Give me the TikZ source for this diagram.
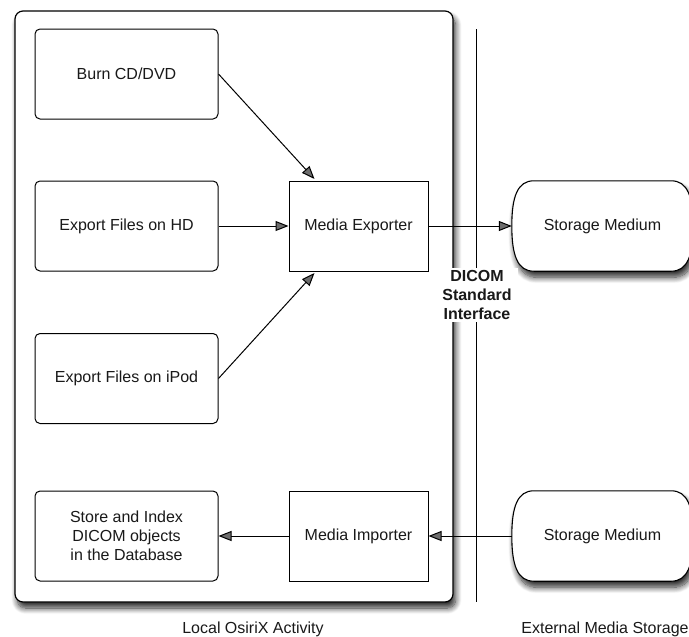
\documentclass[tikz,border=0pt]{standalone}
\usepackage{fontspec}
\setmainfont{Liberation Sans}
\usetikzlibrary{arrows.meta,calc,shadows.blur}
\pgfdeclarelayer{background}
\pgfsetlayers{background,main}
\begin{document}
\begin{tikzpicture}[x=1pt,y=-1pt,
  every node/.style={font=\fontsize{16}{18.8}\selectfont, align=center, text=black!90},
  softshadow/.style={blur shadow={shadow xshift=2.5pt, shadow yshift=-6pt, shadow blur radius=6pt, shadow blur steps=10, shadow opacity=85}},
  bigbox/.style={draw, line width=1.2pt, rounded corners=8pt, fill=white, softshadow, minimum width=438pt, minimum height=591pt, inner sep=0pt},
  taskbox/.style={draw, line width=1pt, rounded corners=5pt, fill=white, minimum width=183pt, minimum height=90pt, inner sep=0pt},
  procbox/.style={draw, line width=1pt, fill=white, minimum width=139pt, minimum height=90pt, inner sep=0pt},
  storebox/.style={minimum width=181pt, minimum height=90pt, inner sep=0pt},
  outline/.style={draw, line width=1.1pt, fill=white, softshadow},
  arr/.style={line width=1pt, -{Triangle[length=13pt,width=10pt]}},
  divider/.style={line width=1pt},
  iface/.style={fill=white, font=\fontsize{16}{18.7}\selectfont\bfseries, inner xsep=6pt, inner ysep=3pt},
  caption/.style={anchor=base}
]
\useasboundingbox (0,0) rectangle (689,637);

% local activity frame
\node[bigbox] (local) at (234,306.5) {};

% divider line
\coordinate (dtop) at (476.5,29);
\coordinate (dbot) at (476.5,602);
\draw[divider] (dtop) -- (dbot);

% task boxes
\node[taskbox] (burn)  at (126.5,74)    {Burn CD/DVD};
\node[taskbox] (hd)    at (126.5,226)   {Export Files on HD};
\node[taskbox] (ipod)  at (126.5,378.5) {Export Files on iPod};
\node[taskbox] (store) at (126.5,536)   {Store and Index\\DICOM objects\\in the Database};

\node[procbox] (exporter) at (358.5,226) {Media Exporter};
\node[procbox] (importer) at (358.5,536) {Media Importer};

% storage media
\node[storebox] (sm1) at (602.5,226) {Storage Medium};
\node[storebox] (sm2) at (602.5,536) {Storage Medium};
\begin{pgfonlayer}{background}
\foreach \s in {sm1,sm2}{
  \draw[outline]
    ($(\s.north west)+(22,0)$) -- ($(\s.north east)+(-22,0)$)
    .. controls ($(\s.north east)+(-6,0)$) and ($(\s.east)+(0,-30)$) .. (\s.east)
    .. controls ($(\s.east)+(0,30)$) and ($(\s.south east)+(-6,0)$) .. ($(\s.south east)+(-22,0)$)
    -- ($(\s.south west)+(22,0)$)
    .. controls ($(\s.south west)+(6,0)$) and ($(\s.west)+(0,30)$) .. (\s.west)
    .. controls ($(\s.west)+(0,-30)$) and ($(\s.north west)+(6,0)$) .. cycle;
}
\end{pgfonlayer}

% connectors
\draw[arr] (burn.east) -- ($(exporter.north west)+(26,-1.5)$);
\draw[arr] (hd.east) -- (exporter.west);
\draw[arr] (ipod.east) -- ($(exporter.south west)+(26,1.5)$);
\draw[arr] (exporter.east) -- (sm1.west);
\draw[arr] (sm2.west) -- (importer.east);
\draw[arr] (importer.west) -- (store.east);

% interface label
\node[iface] (dicom) at (477,295) {DICOM\\Standard\\Interface};

% captions
\node[caption] (loccap) at (253,633) {Local OsiriX Activity};
\node[caption] (extcap) at (605,633) {External Media Storage};
\end{tikzpicture}
\end{document}
